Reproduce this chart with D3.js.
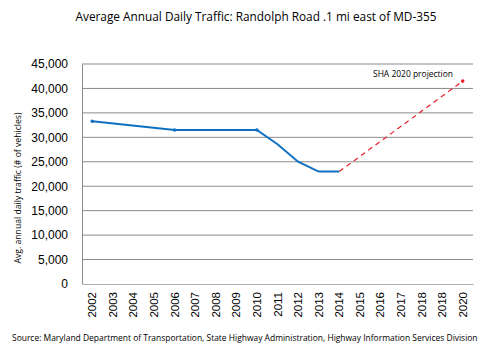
<!DOCTYPE html>
<html>
<head>
<meta charset="utf-8">
<script src="https://cdn.jsdelivr.net/npm/d3@7"></script>
<style>
  body { margin: 0; background: #fff; }
  text { font-family: "Open Sans", sans-serif; }
</style>
</head>
<body>
<div id="chart"></div>
<script>
// tick labels along the x axis (the original has 2018 twice)
var years = ["2002","2003","2004","2005","2006","2007","2008","2009","2010","2011",
             "2012","2013","2014","2015","2016","2017","2018","2018","2020"];
// observed traffic, by category index
var observed = [
  {i: 0, v: 33300}, {i: 4, v: 31500}, {i: 8, v: 31500},
  {i: 9, v: 28600}, {i: 10, v: 25000}, {i: 11, v: 23000}, {i: 12, v: 23000}
];
var markerIdx = [0, 4, 8];
// projection from 2014 to 2020
var projection = [{i: 12, v: 23000}, {i: 18, v: 41500}];
var yTicks = [0, 5000, 10000, 15000, 20000, 25000, 30000, 35000, 40000, 45000];

var W = 500, H = 353;
var margin = {top: 64, right: 27, bottom: 69, left: 82},
    width = W - margin.left - margin.right,
    height = H - margin.top - margin.bottom;

var svg = d3.select("#chart").append("svg")
    .attr("width", W).attr("height", H);

svg.append("text")
    .attr("x", 256).attr("y", 21)
    .attr("text-anchor", "middle")
    .style("font-size", "12px")
    .attr("textLength", 361).attr("lengthAdjust", "spacingAndGlyphs")
    .text("Average Annual Daily Traffic: Randolph Road .1 mi east of MD-355");

var g = svg.append("g")
    .attr("transform", "translate(" + margin.left + "," + margin.top + ")");

var x = d3.scaleBand().domain(d3.range(years.length)).range([0, width]);
var y = d3.scaleLinear().domain([0, 45000]).range([height, 0]);
var cx = function(i) { return x(i) + x.bandwidth() / 2; };

// gridlines
g.selectAll(".grid").data(yTicks.slice(1)).enter().append("line")
    .attr("x1", 0).attr("x2", width)
    .attr("y1", function(d) { return y(d); }).attr("y2", function(d) { return y(d); })
    .attr("stroke", "#8c8c8c").attr("stroke-width", 1);

// y axis
var yAxis = g.append("g")
    .call(d3.axisLeft(y).tickValues(yTicks).tickSize(0).tickPadding(14).tickFormat(d3.format(",")));
yAxis.select(".domain").attr("stroke", "#8c8c8c");
yAxis.selectAll("text").style("font-size", "12px").style("font-family", "Liberation Sans, Arial, sans-serif").attr("fill", "#000");

// x axis
var xAxis = g.append("g")
    .attr("transform", "translate(0," + height + ")")
    .call(d3.axisBottom(x).tickSize(0).tickFormat(function(i) { return years[i]; }));
xAxis.select(".domain").attr("stroke", "#b0b0b0");
xAxis.selectAll("text")
    .attr("transform", "rotate(-90)")
    .attr("x", -8).attr("y", 0).attr("dy", "0.35em")
    .style("text-anchor", "end")
    .style("font-size", "11.5px")
    .style("font-family", "Liberation Sans, Arial, sans-serif")
    .attr("fill", "#000");

// y axis title
svg.append("text")
    .attr("transform", "translate(21,188) rotate(-90)")
    .attr("text-anchor", "middle")
    .style("font-size", "9px")
    .attr("textLength", 151).attr("lengthAdjust", "spacingAndGlyphs")
    .text("Avg. annual daily traffic (# of vehicles)");

var line = d3.line().x(function(d) { return cx(d.i); }).y(function(d) { return y(d.v); });

// projection (dashed red)
g.append("path").datum(projection)
    .attr("d", line)
    .attr("fill", "none").attr("stroke", "#e8202a").attr("stroke-width", 1.2)
    .attr("stroke-dasharray", "5,4");
g.append("circle")
    .attr("cx", cx(projection[1].i)).attr("cy", y(projection[1].v))
    .attr("r", 1.8).attr("fill", "#e8202a");

// observed line
g.append("path").datum(observed)
    .attr("d", line)
    .attr("fill", "none").attr("stroke", "#0f6fc0").attr("stroke-width", 2);
g.selectAll(".mk").data(observed.filter(function(d) { return markerIdx.indexOf(d.i) >= 0; }))
    .enter().append("circle")
    .attr("cx", function(d) { return cx(d.i); }).attr("cy", function(d) { return y(d.v); })
    .attr("r", 1.8).attr("fill", "#0f6fc0");

svg.append("text")
    .attr("x", 373).attr("y", 77)
    .style("font-size", "9px")
    .attr("textLength", 80).attr("lengthAdjust", "spacingAndGlyphs")
    .text("SHA 2020 projection");

// source line: size the font so it fits the 468px the original uses
var src = svg.append("text")
    .attr("x", 12).attr("y", 341)
    .style("font-size", "10px")
    .text("Source: Maryland Department of Transportation, State Highway Administration, Highway Information Services Division");
var natural = src.node().getComputedTextLength();
src.style("font-size", (10 * 466 / natural) + "px");
</script>
</body>
</html>
